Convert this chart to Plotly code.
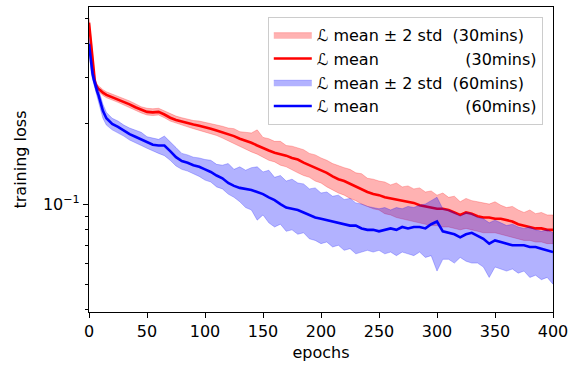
import math
import plotly.graph_objects as go

epochs = [0, 1, 2, 3, 4, 5, 6, 7, 8, 10, 12, 15,
          20, 25, 30, 35, 40, 45, 50, 55, 60, 65, 70, 75, 80, 85, 90, 95,
          100, 105, 110, 115, 120, 125, 130, 135, 140, 145, 150, 155, 160, 165, 170, 175,
          180, 185, 190, 195, 200, 205, 210, 215, 220, 225, 230, 235, 240, 245, 250, 255,
          260, 265, 270, 275, 280, 285, 290, 295, 300, 305, 310, 315, 320, 325, 330, 335,
          340, 345, 350, 355, 360, 365, 370, 375, 380, 385, 390, 395, 400]

red_mean = [0.48, 0.43, 0.39, 0.35, 0.31, 0.29, 0.28, 0.275, 0.271, 0.267, 0.262, 0.257,
            0.252, 0.247, 0.243, 0.237, 0.231, 0.226, 0.222, 0.221, 0.222, 0.217, 0.211, 0.207,
            0.204, 0.201, 0.199, 0.197, 0.195, 0.192, 0.189, 0.186, 0.183, 0.180, 0.176, 0.173,
            0.170, 0.166, 0.162, 0.159, 0.156, 0.154, 0.152, 0.149, 0.147, 0.143, 0.140, 0.137,
            0.134, 0.131, 0.127, 0.124, 0.122, 0.119, 0.116, 0.113, 0.111, 0.109, 0.108, 0.106,
            0.105, 0.104, 0.103, 0.102, 0.101, 0.099, 0.098, 0.097, 0.096, 0.096, 0.095, 0.093,
            0.091, 0.093, 0.092, 0.090, 0.089, 0.089, 0.088, 0.088, 0.087, 0.086, 0.084, 0.083,
            0.082, 0.081, 0.081, 0.080, 0.080]

red_upper = [0.50, 0.45, 0.41, 0.365, 0.322, 0.298, 0.287, 0.282, 0.278, 0.274, 0.269, 0.264,
             0.259, 0.254, 0.249, 0.244, 0.238, 0.232, 0.229, 0.228, 0.229, 0.224, 0.218, 0.214,
             0.211, 0.208, 0.206, 0.205, 0.203, 0.2, 0.198, 0.196, 0.193, 0.192, 0.187, 0.186,
             0.185, 0.19, 0.178, 0.176, 0.172, 0.172, 0.166, 0.165, 0.162, 0.16, 0.155, 0.153,
             0.149, 0.146, 0.142, 0.139, 0.137, 0.135, 0.131, 0.13, 0.125, 0.124, 0.122, 0.121,
             0.118, 0.12, 0.116, 0.117, 0.114, 0.115, 0.111, 0.112, 0.108, 0.11, 0.106, 0.107,
             0.102, 0.105, 0.103, 0.102, 0.101, 0.1, 0.102, 0.099, 0.097, 0.098, 0.095, 0.093,
             0.095, 0.092, 0.093, 0.091, 0.091]

red_lower = [0.46, 0.41, 0.372, 0.335, 0.298, 0.282, 0.273, 0.268, 0.265, 0.261, 0.256, 0.251,
             0.246, 0.241, 0.237, 0.231, 0.225, 0.22, 0.216, 0.215, 0.216, 0.211, 0.205, 0.201,
             0.198, 0.195, 0.192, 0.19, 0.187, 0.184, 0.181, 0.177, 0.173, 0.169, 0.165, 0.161,
             0.157, 0.154, 0.15, 0.146, 0.144, 0.14, 0.138, 0.134, 0.131, 0.128, 0.126, 0.122,
             0.12, 0.116, 0.113, 0.11, 0.108, 0.105, 0.103, 0.1, 0.098, 0.096, 0.095, 0.092,
             0.091, 0.089, 0.088, 0.087, 0.086, 0.085, 0.084, 0.083, 0.083, 0.082, 0.082, 0.081,
             0.08, 0.081, 0.08, 0.079, 0.078, 0.078, 0.078, 0.077, 0.076, 0.075, 0.074, 0.073,
             0.073, 0.072, 0.072, 0.071, 0.071]

blue_mean = [0.40, 0.36, 0.33, 0.31, 0.295, 0.283, 0.273, 0.265, 0.258, 0.24, 0.224, 0.21,
             0.2, 0.195, 0.189, 0.183, 0.179, 0.175, 0.17, 0.167, 0.166, 0.166, 0.158, 0.15,
             0.145, 0.143, 0.14, 0.138, 0.135, 0.132, 0.128, 0.125, 0.12, 0.117, 0.115, 0.114,
             0.113, 0.111, 0.109, 0.106, 0.1035, 0.1, 0.097, 0.096, 0.095, 0.093, 0.091, 0.089,
             0.088, 0.087, 0.086, 0.085, 0.084, 0.083, 0.083, 0.081, 0.08, 0.08, 0.079, 0.08,
             0.081, 0.08, 0.082, 0.081, 0.082, 0.082, 0.081, 0.084, 0.086, 0.079, 0.078, 0.077,
             0.075, 0.077, 0.078, 0.076, 0.074, 0.071, 0.073, 0.072, 0.071, 0.07, 0.07, 0.07,
             0.069, 0.069, 0.068, 0.067, 0.066]

blue_upper = [0.42, 0.38, 0.35, 0.325, 0.31, 0.298, 0.287, 0.279, 0.272, 0.254, 0.237, 0.221,
              0.21, 0.205, 0.198, 0.193, 0.189, 0.186, 0.179, 0.177, 0.175, 0.18, 0.172, 0.163,
              0.155, 0.153, 0.15, 0.149, 0.147, 0.146, 0.141, 0.14, 0.142, 0.135, 0.138, 0.134,
              0.137, 0.138, 0.132, 0.134, 0.126, 0.128, 0.122, 0.124, 0.12, 0.119, 0.114, 0.115,
              0.11, 0.111, 0.107, 0.108, 0.104, 0.105, 0.101, 0.1, 0.098, 0.097, 0.096, 0.097,
              0.095, 0.097, 0.096, 0.098, 0.097, 0.099, 0.1, 0.103, 0.106, 0.096, 0.095, 0.093,
              0.09, 0.093, 0.092, 0.089, 0.088, 0.085, 0.087, 0.085, 0.083, 0.084, 0.082, 0.081,
              0.082, 0.08, 0.079, 0.08, 0.078]

blue_lower = [0.38, 0.34, 0.31, 0.295, 0.28, 0.268, 0.259, 0.251, 0.244, 0.226, 0.21, 0.198,
              0.19, 0.185, 0.18, 0.174, 0.17, 0.166, 0.162, 0.158, 0.155, 0.152, 0.146, 0.139,
              0.135, 0.133, 0.13, 0.127, 0.123, 0.121, 0.116, 0.114, 0.109, 0.106, 0.102, 0.097,
              0.095, 0.087, 0.091, 0.085, 0.082, 0.084, 0.079, 0.08, 0.077, 0.078, 0.074, 0.073,
              0.071, 0.072, 0.069, 0.07, 0.067, 0.068, 0.065, 0.066, 0.067, 0.066, 0.067, 0.065,
              0.066, 0.064, 0.066, 0.065, 0.064, 0.066, 0.063, 0.064, 0.056, 0.062, 0.062, 0.06,
              0.063, 0.061, 0.06, 0.06, 0.058, 0.053, 0.058, 0.057, 0.056, 0.057, 0.055, 0.056,
              0.053, 0.054, 0.052, 0.053, 0.05]

x_ticks = [0, 50, 100, 150, 200, 250, 300, 350, 400]
y_major = [0.1]
y_major_text = ["10<sup>\u22121</sup>"]
y_minor = [0.04, 0.05, 0.06, 0.07, 0.08, 0.09, 0.2, 0.3, 0.4, 0.5]

NB = "\u00a0"
names = [
    "\u2112 mean \u00b1 2 std" + NB * 2 + "(30mins)",
    "\u2112 mean" + NB * 17 + "(30mins)",
    "\u2112 mean \u00b1 2 std" + NB * 2 + "(60mins)",
    "\u2112 mean" + NB * 17 + "(60mins)",
]

fig = go.Figure()

def add_series(mean, upper, lower, line_col, fill_col, band_name, mean_name, grp):
    fig.add_trace(go.Scatter(
        x=epochs + epochs[::-1], y=upper + lower[::-1],
        fill="toself", fillcolor=fill_col,
        line=dict(color=fill_col, width=0.8),
        mode="lines", name=band_name, legendgroup=grp + "b",
        hoverinfo="skip"))
    fig.add_trace(go.Scatter(
        x=epochs, y=mean, mode="lines",
        line=dict(color=line_col, width=2.6),
        name=mean_name, legendgroup=grp + "m"))

add_series(red_mean, red_upper, red_lower, "#ff0000", "rgba(255,0,0,0.3)",
           names[0], names[1], "r")
add_series(blue_mean, blue_upper, blue_lower, "#0000ff", "rgba(0,0,255,0.3)",
           names[2], names[3], "b")

axis_common = dict(
    showline=True, linecolor="black", linewidth=1.1, mirror=True,
    ticks="outside", ticklen=5, tickwidth=1.1, tickcolor="black",
    showgrid=False, zeroline=False,
    tickfont=dict(size=16, color="black"),
)

fig.update_layout(
    width=579, height=367,
    margin=dict(l=89, r=26, t=7, b=55),
    paper_bgcolor="white", plot_bgcolor="white",
    font=dict(family="DejaVu Sans", size=16, color="black"),
    xaxis=dict(range=[0, 400], tickvals=x_ticks,
               title=dict(text="epochs", font=dict(size=16), standoff=6),
               **axis_common),
    yaxis=dict(type="log", range=[math.log10(0.0393), math.log10(0.55)],
               tickvals=y_major, ticktext=y_major_text,
               minor=dict(tickvals=y_minor, ticks="outside", ticklen=3,
                          tickwidth=1, tickcolor="black", showgrid=False),
               title=dict(text="training loss", font=dict(size=16), standoff=12),
               **axis_common),
    legend=dict(
        x=0.978, xanchor="right", y=0.968, yanchor="top",
        bgcolor="rgba(255,255,255,0.8)", bordercolor="#cccccc", borderwidth=1,
        font=dict(size=16, color="black"), itemwidth=38,
        tracegroupgap=6, traceorder="normal",
    ),
    showlegend=True,
)

fig.write_html("out.html")
